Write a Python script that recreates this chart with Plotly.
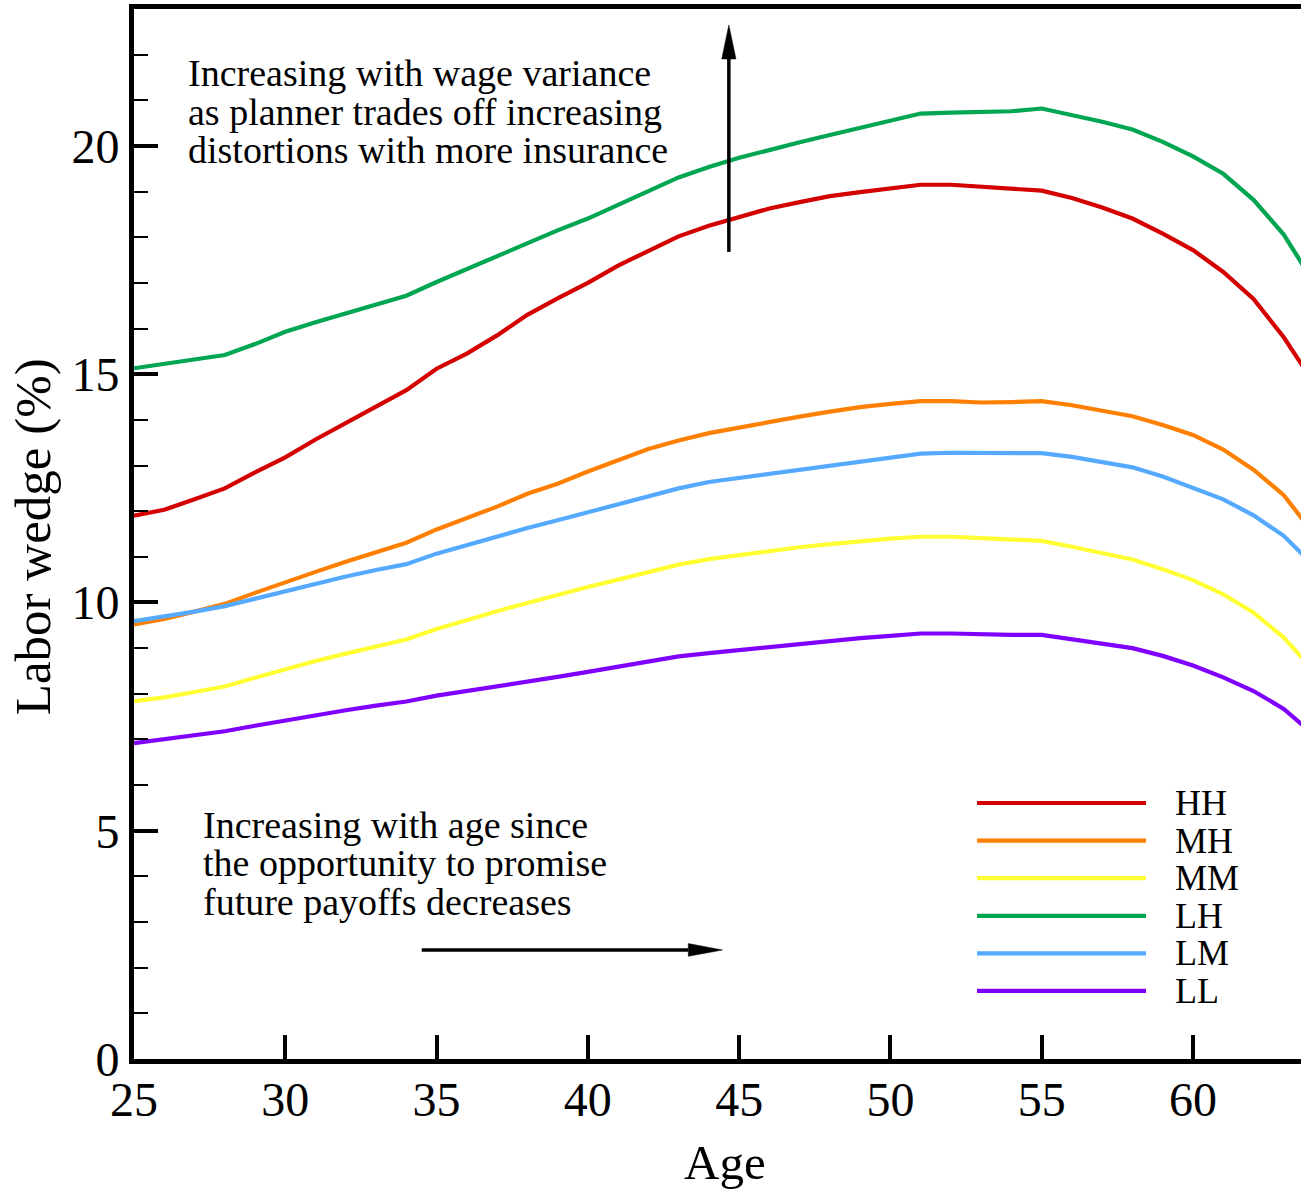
import plotly.graph_objects as go

# Age grid (years)
ages = list(range(25, 65))

# Labor wedge (%) by wage-type pair
hh = [11.90, 12.03, 12.26, 12.50, 12.85, 13.18, 13.57, 13.93, 14.29, 14.65,
      15.12, 15.45, 15.85, 16.30, 16.66, 17.00, 17.38, 17.71, 18.02, 18.25,
      18.43, 18.63, 18.77, 18.90, 18.99, 19.07, 19.15, 19.15, 19.10, 19.05,
      19.02, 18.86, 18.65, 18.41, 18.08, 17.72, 17.24, 16.65, 15.81, 14.80]
mh = [9.52, 9.64, 9.80, 9.97, 10.21, 10.45, 10.67, 10.89, 11.10, 11.31,
      11.60, 11.85, 12.10, 12.38, 12.60, 12.87, 13.12, 13.36, 13.55, 13.71,
      13.83, 13.96, 14.07, 14.18, 14.28, 14.35, 14.41, 14.41, 14.38, 14.39,
      14.41, 14.32, 14.21, 14.08, 13.89, 13.67, 13.35, 12.91, 12.35, 11.50]
mm = [7.84, 7.92, 8.04, 8.16, 8.35, 8.54, 8.72, 8.88, 9.04, 9.19,
      9.42, 9.62, 9.81, 9.99, 10.17, 10.34, 10.50, 10.67, 10.83, 10.95,
      11.04, 11.13, 11.21, 11.28, 11.35, 11.40, 11.44, 11.44, 11.41, 11.38,
      11.35, 11.22, 11.09, 10.94, 10.73, 10.49, 10.18, 9.78, 9.23, 8.50]
lh = [15.13, 15.22, 15.32, 15.42, 15.66, 15.93, 16.14, 16.34, 16.54, 16.72,
      17.02, 17.30, 17.58, 17.88, 18.15, 18.41, 18.70, 19.01, 19.31, 19.54,
      19.74, 19.92, 20.08, 20.24, 20.39, 20.55, 20.71, 20.73, 20.74, 20.76,
      20.82, 20.68, 20.53, 20.36, 20.09, 19.77, 19.39, 18.82, 18.06, 17.00]
lm = [9.59, 9.69, 9.80, 9.92, 10.08, 10.24, 10.42, 10.57, 10.71, 10.84,
      11.07, 11.26, 11.43, 11.63, 11.80, 11.98, 12.16, 12.32, 12.50, 12.64,
      12.73, 12.82, 12.91, 12.99, 13.08, 13.17, 13.26, 13.28, 13.27, 13.27,
      13.27, 13.19, 13.08, 12.96, 12.76, 12.52, 12.26, 11.91, 11.46, 10.80]
ll = [6.92, 7.00, 7.10, 7.18, 7.30, 7.42, 7.53, 7.64, 7.74, 7.83,
      7.96, 8.06, 8.15, 8.26, 8.37, 8.48, 8.60, 8.71, 8.82, 8.89,
      8.96, 9.03, 9.10, 9.16, 9.22, 9.27, 9.32, 9.32, 9.30, 9.29,
      9.29, 9.19, 9.10, 9.00, 8.83, 8.62, 8.36, 8.06, 7.67, 7.10]

series_names = ["HH", "MH", "MM", "LH", "LM", "LL"]
series_values = [hh, mh, mm, lh, lm, ll]
series_colors = ["#d40000", "#ff8000", "#ffff33", "#00a651", "#55aaff", "#8000ff"]

x_ticks = [25, 30, 35, 40, 45, 50, 55, 60]
y_ticks = [0, 5, 10, 15, 20]

FONT = "Liberation Serif, Times New Roman, serif"

fig = go.Figure()
for name, vals, col in zip(series_names, series_values, series_colors):
    fig.add_trace(go.Scatter(x=ages, y=vals, mode="lines", name=name,
                             line=dict(color=col, width=4.2), showlegend=False))

# Hand-built legend: long line samples with labels to the right
leg_x0, leg_x1, leg_lab = 0.7224, 0.8672, 0.8903
leg_top, leg_step = 0.2438, 0.0358
shapes = []
annotations = []
for i, (name, col) in enumerate(zip(series_names, series_colors)):
    yy = leg_top - i * leg_step
    shapes.append(dict(type="line", xref="paper", yref="paper",
                       x0=leg_x0, x1=leg_x1, y0=yy, y1=yy,
                       line=dict(color=col, width=4.2)))
    annotations.append(dict(xref="paper", yref="paper", x=leg_lab, y=yy,
                            text=name, showarrow=False, xanchor="left",
                            yanchor="middle",
                            font=dict(family=FONT, size=36, color="black")))

# Arrows (shaft + filled head), in axis units
def arrow(x_tail, y_tail, x_tip, y_tip, head_len, head_half, vertical):
    if vertical:
        base = y_tip - head_len
        shapes.append(dict(type="line", xref="x", yref="y", x0=x_tail, x1=x_tip,
                           y0=y_tail, y1=base, line=dict(color="black", width=3.5)))
        path = f"M {x_tip - head_half},{base} L {x_tip + head_half},{base} L {x_tip},{y_tip} Z"
    else:
        base = x_tip - head_len
        shapes.append(dict(type="line", xref="x", yref="y", x0=x_tail, x1=base,
                           y0=y_tail, y1=y_tip, line=dict(color="black", width=3.5)))
        path = f"M {base},{y_tip - head_half} L {base},{y_tip + head_half} L {x_tip},{y_tip} Z"
    shapes.append(dict(type="path", xref="x", yref="y", path=path,
                       fillcolor="black", line=dict(color="black", width=0.5)))

arrow(44.66, 17.68, 44.66, 22.65, 0.745, 0.235, vertical=True)
arrow(34.51, 2.388, 44.45, 2.388, 1.13, 0.14, vertical=False)

# Text notes, one line at a time for tight line spacing
note1 = ["Increasing with wage variance",
         "as planner trades off increasing",
         "distortions with more insurance"]
note2 = ["Increasing with age since",
         "the opportunity to promise",
         "future payoffs decreases"]
for lines, x_left, y_first in [(note1, 0.0446, 0.9390), (note2, 0.0574, 0.2229)]:
    for j, txt in enumerate(lines):
        annotations.append(dict(xref="paper", yref="paper", x=x_left,
                                y=y_first - j * 0.0367, text=txt,
                                showarrow=False, xanchor="left", yanchor="middle",
                                font=dict(family=FONT, size=38, color="black")))

# Axis titles
annotations.append(dict(xref="paper", yref="paper", x=0.5064, y=-0.0990,
                        text="Age", showarrow=False, xanchor="center",
                        yanchor="middle", font=dict(family=FONT, size=49, color="black")))
annotations.append(dict(xref="paper", yref="paper", x=-0.0865, y=0.497,
                        text="Labor wedge (%)", showarrow=False, textangle=-90,
                        xanchor="center", yanchor="middle",
                        font=dict(family=FONT, size=51, color="black")))

fig.update_layout(
    width=1301, height=1195,
    margin=dict(l=134, r=0, t=9, b=136),
    paper_bgcolor="white", plot_bgcolor="white",
    font=dict(family=FONT, color="black"),
    shapes=shapes, annotations=annotations,
)
fig.update_xaxes(range=[25, 63.57], tickvals=x_ticks, ticktext=[str(v) for v in x_ticks],
                 ticks="inside", ticklen=24, tickwidth=4, tickcolor="black",
                 showline=True, linewidth=5, linecolor="black", mirror=True,
                 showgrid=False, zeroline=False, ticklabelstandoff=-6,
                 tickfont=dict(family=FONT, size=48, color="black"))
fig.update_yaxes(range=[0, 23], tickvals=y_ticks, ticktext=[str(v) for v in y_ticks],
                 ticks="inside", ticklen=24, tickwidth=4, tickcolor="black",
                 minor=dict(dtick=1, ticks="inside", ticklen=14, tickwidth=1.5,
                            tickcolor="black", showgrid=False),
                 showline=True, linewidth=5, linecolor="black", mirror=False,
                 showgrid=False, zeroline=False, ticklabelstandoff=0,
                 tickfont=dict(family=FONT, size=48, color="black"))

fig.write_html("out.html")
